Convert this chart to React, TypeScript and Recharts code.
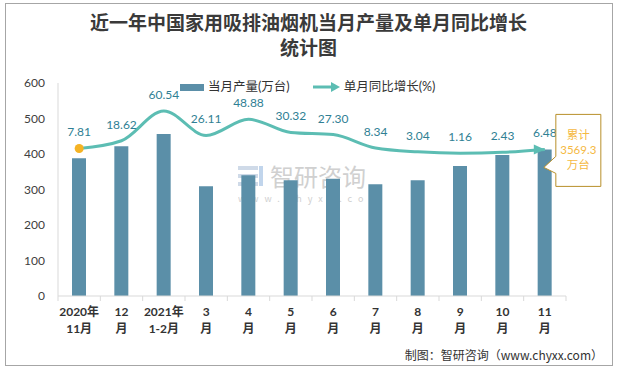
import React from "react";
import {
  ComposedChart,
  Bar,
  Line,
  XAxis,
  YAxis,
  LabelList,
} from "recharts";

const months = ["2020年", "12", "2021年", "3", "4", "5", "6", "7", "8", "9", "10", "11"];
const monthSub = ["11月", "月", "1-2月", "月", "月", "月", "月", "月", "月", "月", "月", "月"];
const output = [388, 422, 456, 309, 340, 326, 330, 315, 326, 366, 397, 413];
const growth = [7.81, 18.62, 60.54, 26.11, 48.88, 30.32, 27.3, 8.34, 3.04, 1.16, 2.43, 6.48];
const leftTicks = [0, 100, 200, 300, 400, 500, 600];
const totalNote = ["累计", "3569.3", "万台"];

const BAR = "#5b8fa8";
const LINE = "#5cbdb3";
const LABEL = "#2f7f94";
const FONT = "Lato, 'Noto Sans CJK SC', sans-serif";

const data = months.map((m, i) => ({
  key: m + "|" + monthSub[i],
  output: output[i],
  growth: growth[i],
}));

function XTick(props: any) {
  const { x, y, payload } = props;
  const i = payload.index;
  const half = payload.offset || 21;
  return (
    <g>
      <line x1={x - half} y1={y} x2={x - half} y2={y + 5} stroke="#d9d9d9" />
      {i === months.length - 1 && (
        <line x1={x + half} y1={y} x2={x + half} y2={y + 5} stroke="#d9d9d9" />
      )}
      <text x={x} y={y + 20} textAnchor="middle" fontSize={12} fontWeight="bold" fill="#333" fontFamily={FONT}>
        {months[i]}
      </text>
      <text x={x} y={y + 37} textAnchor="middle" fontSize={12} fontWeight="bold" fill="#333" fontFamily={FONT}>
        {monthSub[i]}
      </text>
    </g>
  );
}

function LineDot(props: any) {
  const { cx, cy, index } = props;
  if (index === 0) return <circle key="d0" cx={cx} cy={cy} r={4.5} fill="#f5b324" />;
  if (index === growth.length - 1)
    return <path key="dl" d={`M${cx - 11},${cy - 5} L${cx},${cy} L${cx - 11},${cy + 5} Z`} fill={LINE} />;
  return <g key={"d" + index} />;
}

function Callout(props: any) {
  const { x, y, index } = props;
  if (index !== growth.length - 1) return null;
  const l = x + 11;
  const r = x + 56;
  const t = y - 35;
  const b = y + 37;
  return (
    <g>
      <path
        d={`M${l},${t} L${r},${t} L${r},${b} L${l},${b} L${l},${y + 24} L${x - 1},${y + 18} L${l},${y + 7} Z`}
        fill="#fff"
        stroke="#b8902a"
        strokeWidth={1}
      />
      {totalNote.map((s, k) => (
        <text key={k} x={(l + r) / 2} y={t + 25 + k * 15} textAnchor="middle" fontSize={11.5} fill="#f5b942" fontFamily={FONT}>
          {s}
        </text>
      ))}
    </g>
  );
}

function LegendBox() {
  return (
    <div style={{ display: "flex", alignItems: "center", fontSize: 12.5, lineHeight: "14px", color: "#333", fontFamily: FONT }}>
      <span style={{ width: 24, height: 7, background: BAR, display: "inline-block" }} />
      <span style={{ marginLeft: 4 }}>当月产量(万台)</span>
      <svg width={28} height={10} style={{ marginLeft: 23 }}>
        <line x1={0} y1={5} x2={20} y2={5} stroke={LINE} strokeWidth={3} />
        <path d="M18,0 L27,5 L18,10 Z" fill={LINE} />
      </svg>
      <span style={{ marginLeft: 3 }}>单月同比增长(%)</span>
    </div>
  );
}

export default function App() {
  return (
    <div style={{ position: "absolute", left: 0, top: 0, width: 617, height: 369, background: "#fff", fontFamily: FONT }}>
      <div style={{ position: "absolute", left: 5, top: 3, width: 606, height: 361, border: "1px solid #a6a6a6" }} />
      <div
        style={{
          position: "absolute",
          left: 0,
          top: 9,
          width: 617,
          textAlign: "center",
          fontSize: 19,
          lineHeight: "25px",
          fontWeight: "bold",
          color: "#3a3a3a",
          fontFamily: "'Noto Sans CJK SC', serif",
        }}
      >
        近一年中国家用吸排油烟机当月产量及单月同比增长
        <br />
        统计图
      </div>
      <div style={{ position: "absolute", left: 238, top: 162, opacity: 0.55, fontFamily: "'Noto Sans CJK SC'" }}>
        <div style={{ display: "flex", alignItems: "center", height: 28 }}>
          <svg width={26} height={24}>
            <rect x={0} y={2} width={20} height={4} fill="#a9bcd6" />
            <rect x={0} y={10} width={20} height={4} fill="#a9bcd6" />
            <rect x={0} y={18} width={20} height={4} fill="#a9bcd6" />
            <rect x={21} y={2} width={4} height={20} fill="#8fb3de" />
          </svg>
          <span style={{ fontSize: 24, lineHeight: "28px", color: "#aaa", marginLeft: 6 }}>智研咨询</span>
        </div>
        <div style={{ fontSize: 9, lineHeight: "10px", letterSpacing: 6, color: "#aaa", marginTop: 4 }}>www.chyxx.com</div>
      </div>
      <div style={{ position: "absolute", left: 180, top: 80 }}>
        <LegendBox />
      </div>
      <ComposedChart
        width={617}
        height={369}
        data={data}
        margin={{ top: 83, right: 51, bottom: 0, left: 0 }}
        style={{ position: "absolute", left: 0, top: 0 }}
      >
        <XAxis
          dataKey="key"
          xAxisId="x"
          height={73}
          interval={0}
          tickLine={false}
          tickSize={0}
          tickMargin={0}
          axisLine={{ stroke: "#d9d9d9" }}
          tick={<XTick />}
        />
        <YAxis
          yAxisId="left"
          width={58}
          domain={[0, 600]}
          ticks={leftTicks}
          tickLine={false}
          tickMargin={7}
          axisLine={{ stroke: "#d9d9d9" }}
          tick={{ fontSize: 12, fill: "#404040", fontFamily: FONT }}
        />
        <YAxis yAxisId="right" orientation="right" domain={[-200, 100]} hide />
        <Bar dataKey="output" xAxisId="x" yAxisId="left" fill={BAR} barSize={14} isAnimationActive={false} />
        <Line
          dataKey="growth"
          xAxisId="x"
          yAxisId="right"
          type="monotone"
          stroke={LINE}
          strokeWidth={3}
          dot={LineDot}
          activeDot={false}
          isAnimationActive={false}
        >
          <LabelList
            dataKey="growth"
            position="top"
            offset={12}
            fontSize={12}
            fill={LABEL}
            fontFamily={FONT}
            formatter={(v: any) => Number(v).toFixed(2)}
          />
          <LabelList dataKey="growth" content={<Callout />} />
        </Line>
      </ComposedChart>
      <div style={{ position: "absolute", right: 14, top: 346, fontSize: 12, color: "#333", fontFamily: "'Noto Sans CJK SC'" }}>
        制图：智研咨询（www.chyxx.com）
      </div>
    </div>
  );
}
